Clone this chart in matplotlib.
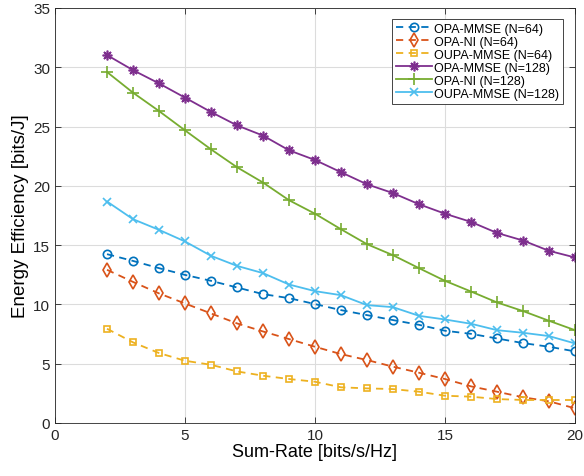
import matplotlib
matplotlib.use("Agg")
import matplotlib.pyplot as plt

plt.rcParams['font.family'] = ['Liberation Sans', 'DejaVu Sans']

sum_rate = list(range(2, 21))

opa_mmse_64 = [14.24, 13.67, 13.06, 12.49, 11.99, 11.43, 10.87, 10.53, 10.03,
               9.52, 9.10, 8.68, 8.28, 7.78, 7.52, 7.13, 6.74, 6.43, 6.04]
opa_ni_64 = [12.92, 11.90, 10.93, 10.08, 9.24, 8.40, 7.72, 7.08, 6.43,
             5.81, 5.31, 4.75, 4.24, 3.71, 3.09, 2.64, 2.17, 1.83, 1.24]
oupa_mmse_64 = [7.95, 6.80, 5.90, 5.25, 4.91, 4.35, 3.99, 3.71, 3.48,
                3.01, 2.92, 2.86, 2.64, 2.30, 2.22, 2.02, 1.94, 1.94, 1.94]
opa_mmse_128 = [31.03, 29.76, 28.64, 27.44, 26.23, 25.10, 24.24, 23.00, 22.18,
                21.15, 20.13, 19.39, 18.45, 17.65, 16.96, 16.03, 15.39, 14.52, 13.96]
opa_ni_128 = [29.60, 27.86, 26.31, 24.68, 23.08, 21.57, 20.28, 18.79, 17.65,
              16.34, 15.08, 14.15, 13.06, 11.99, 11.09, 10.17, 9.44, 8.62, 7.83]
oupa_mmse_128 = [18.68, 17.19, 16.29, 15.31, 14.10, 13.25, 12.64, 11.68, 11.12,
                 10.78, 9.94, 9.77, 9.04, 8.73, 8.37, 7.83, 7.61, 7.33, 6.71]

labels = ['OPA-MMSE (N=64)', 'OPA-NI (N=64)', 'OUPA-MMSE (N=64)',
          'OPA-MMSE (N=128)', 'OPA-NI (N=128)', 'OUPA-MMSE (N=128)']
colors = ['#0072BD', '#D95319', '#EDB120', '#7E2F8E', '#77AC30', '#4DBEEE']
# 8-spoke asterisk for the purple series
markers = ['o', 'd', 's', (8, 2, 0), '+', 'x']
marker_sizes = [6, 7, 5, 7, 8, 6]
styles = [(0, (4, 3)), (0, (4, 3)), (0, (4, 3)), '-', '-', '-']
series = [opa_mmse_64, opa_ni_64, oupa_mmse_64, opa_mmse_128, opa_ni_128, oupa_mmse_128]

fig = plt.figure(figsize=(5.84, 4.77), dpi=100)
ax = fig.add_axes([55 / 584, 1 - 424 / 477, 520 / 584, 415 / 477])

for vals, lab, c, m, ms, ls in zip(series, labels, colors, markers, marker_sizes, styles):
    ax.plot(sum_rate, vals, linestyle=ls, color=c, marker=m, markersize=ms,
            markerfacecolor='none', markeredgecolor=c, markeredgewidth=1.2,
            linewidth=1.3, label=lab)

ax.set_xlim(0, 20)
ax.set_ylim(0, 35)
ax.set_xticks([0, 5, 10, 15, 20])
ax.set_yticks([0, 5, 10, 15, 20, 25, 30, 35])
ax.grid(True, color='#dcdcdc', linewidth=0.8)
ax.set_axisbelow(True)
ax.tick_params(direction='in', top=True, right=True, labelsize=11, length=4,
               width=0.6, colors='#262626')
for s in ax.spines.values():
    s.set_linewidth(0.6)
    s.set_color('#262626')
ax.set_xlabel('Sum-Rate [bits/s/Hz]', fontsize=13, labelpad=1)
ax.set_ylabel('Energy Efficiency [bits/J]', fontsize=13.5, labelpad=3)

leg = ax.legend(loc='upper right', fontsize=9, frameon=True, fancybox=False,
                edgecolor='#262626', framealpha=1, borderpad=0.3,
                labelspacing=0.08, handlelength=2.9, handletextpad=0.2,
                borderaxespad=0, bbox_to_anchor=(563 / 584, 1 - 20 / 477),
                bbox_transform=fig.transFigure)
leg.get_frame().set_linewidth(0.6)

fig.savefig('out.png', dpi=100)
